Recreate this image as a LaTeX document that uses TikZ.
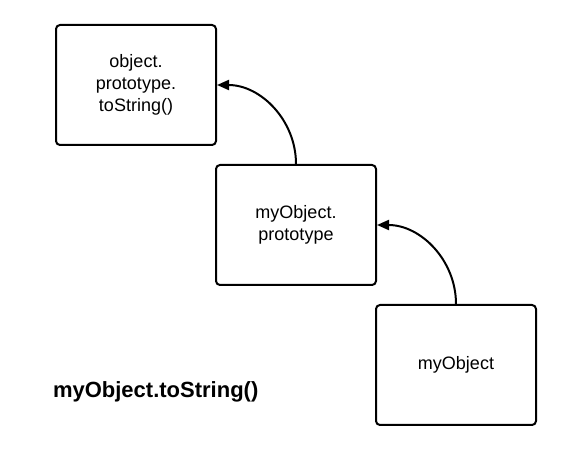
\documentclass[tikz,border=0pt]{standalone}
\usepackage{fontspec}
\setmainfont{Liberation Sans}
\usepackage{tikz}
\usetikzlibrary{arrows.meta}

\begin{document}
\begin{tikzpicture}[x=0.75pt,y=-0.75pt,line width=1.5pt,
	box/.style={draw,rounded corners=3pt,minimum width=120pt,minimum height=90pt,align=center,font=\fontsize{13.5}{16.5}\selectfont},
	link/.style={-{Triangle[length=9pt,width=7.5pt]}}]
			\useasboundingbox (0,0) rectangle (562,449);
			\node[box] (toString) at (136,85) {object.\\prototype.\\toString()};
			\node[box] (proto) at (296,225) {myObject.\\prototype};
			\node[box] (obj) at (456,365) {myObject};
			\node[anchor=west,inner sep=0,font=\fontsize{16.5}{20}\selectfont\bfseries] (call) at (52,392) {myObject.toString()};
			\draw[link] (proto.north) to[out=90,in=0] (toString.east);
			\draw[link] (obj.north) to[out=90,in=0] (proto.east);
		\end{tikzpicture}
\end{document}
